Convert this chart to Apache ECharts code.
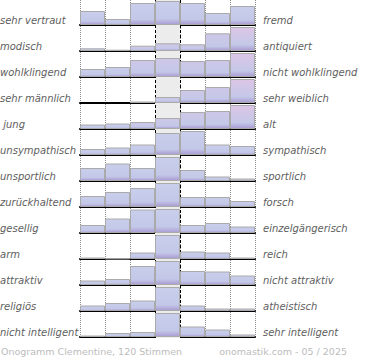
<!DOCTYPE html>
<html>
<head>
<meta charset="utf-8">
<script src="https://cdn.jsdelivr.net/npm/echarts@6/dist/echarts.min.js"></script>
<style>html,body{margin:0;padding:0;background:#fff}#c{width:370px;height:360px}</style>
</head>
<body>
<div id="c"></div>
<script>
// scale steps (7 columns)
const steps = ['1', '2', '3', '4', '5', '6', '7'];
const leftLabels = ['sehr vertraut', 'modisch', 'wohlklingend', 'sehr männlich', ' jung', 'unsympathisch', 'unsportlich', 'zurückhaltend', 'gesellig', 'arm', 'attraktiv', 'religiös', 'nicht intelligent'];
const rightLabels = ['fremd', 'antiquiert', 'nicht wohlklingend', 'sehr weiblich', 'alt', 'sympathisch', 'sportlich', 'forsch', 'einzelgängerisch', 'reich', 'nicht attraktiv', 'atheistisch', 'sehr intelligent'];
// relative vote shares per row (largest = 24)
const vertraut = [14, 6, 22, 24, 22, 12, 19];
const modisch = [2.7, 1.3, 5.3, 7.7, 6.7, 17.7, 24];
const wohlklingend = [8, 10, 17, 19, 16, 17, 24];
const maennlich = [0, 0, 1.5, 6, 13, 16, 24];
const jung = [4.5, 5.5, 7, 11, 17, 18, 24];
const unsympathisch = [6, 7.5, 10.5, 22, 24, 10.5, 9];
const unsportlich = [13, 17.5, 13, 24, 11, 4.5, 2.5];
const zurueckhaltend = [11, 15, 19, 24, 10, 10, 6];
const gesellig = [8, 14.5, 23.5, 24, 8, 10, 6.5];
const arm = [1.5, 0.5, 6.5, 24, 7.5, 6.5, 1.5];
const attraktiv = [4.5, 6, 19, 24, 14, 13.5, 9.5];
const religioes = [5.5, 8, 10.5, 24, 5.5, 2.5, 2.5];
const intelligent = [1.5, 4, 5, 24, 10.5, 7.5, 2.5];
const rows = [vertraut, modisch, wohlklingend, maennlich, jung, unsympathisch, unsportlich, zurueckhaltend, gesellig, arm, attraktiv, religioes, intelligent];

const PLOT_L = 80, PLOT_W = 175, ROW_H = 26, BAR_MAX = 24, FIRST_BASE = 25;
const tinted = [false, true, true, true, true, false, false, false, false, false, false, false, false];

function grad(top) {
  return new echarts.graphic.LinearGradient(0, 0, 0, 1, [
    { offset: 0, color: top },
    { offset: 0.75, color: '#c4c8e8' },
    { offset: 1, color: '#a99bd2' }
  ]);
}

const grids = [{ left: PLOT_L, width: PLOT_W, top: 0, height: FIRST_BASE + ROW_H * 12 + 1 }];
const xAxes = [{
  gridIndex: 0, type: 'value', min: 0, max: 7, interval: 1,
  axisLine: { show: false }, axisTick: { show: false }, axisLabel: { show: false },
  splitLine: { show: true, lineStyle: { color: '#8a8a8a', type: [1, 1], width: 1 } }
}];
const yAxes = [{ gridIndex: 0, type: 'value', min: 0, max: 1, show: false }];
const series = [
  {
    type: 'line', xAxisIndex: 0, yAxisIndex: 0, data: [], z: 0, silent: true,
    markArea: { silent: true, itemStyle: { color: '#ececec' }, data: [[{ xAxis: 3 }, { xAxis: 4 }]] }
  },
  {
    type: 'line', xAxisIndex: 0, yAxisIndex: 0, data: [], z: 20, silent: true,
    markLine: {
      silent: true, symbol: 'none', label: { show: false },
      lineStyle: { color: '#000', type: [3, 2], width: 1 },
      data: [{ xAxis: 3 }, { xAxis: 4 }]
    }
  }
];
const graphics = [];

rows.forEach((vals, k) => {
  const gi = k + 1;
  const base = FIRST_BASE + ROW_H * k;
  grids.push({ left: PLOT_L, width: PLOT_W, top: base - BAR_MAX, height: BAR_MAX });
  xAxes.push({
    gridIndex: gi, type: 'category', data: steps, boundaryGap: true,
    axisLine: { show: true, lineStyle: { color: '#000', width: 2 } },
    axisTick: { show: false }, axisLabel: { show: false }, splitLine: { show: false }
  });
  yAxes.push({ gridIndex: gi, type: 'value', min: 0, max: function (v) { return v.max; }, show: false });
  series.push({
    type: 'bar', xAxisIndex: gi, yAxisIndex: gi, z: 5, silent: true,
    barCategoryGap: '0%', barGap: '0%',
    data: vals.map((v, i) => {
      let top = '#c8ceec';
      if (tinted[k]) top = i === 6 ? '#ddc5e6' : (i >= 2 ? '#cec7e8' : '#c8ceec');
      return { value: v, itemStyle: { color: grad(top), borderColor: '#aaaaaa', borderWidth: v > 0 ? 1 : 0 } };
    })
  });
  const font = 'italic 10px "DejaVu Sans"';
  graphics.push({ type: 'text', x: 0, y: base - 5, silent: true, style: { text: leftLabels[k], font: font, fill: '#606060', verticalAlign: 'middle', align: 'left' } });
  graphics.push({ type: 'text', x: 263, y: base - 5, silent: true, style: { text: rightLabels[k], font: font, fill: '#606060', verticalAlign: 'middle', align: 'left' } });
});

graphics.push({ type: 'text', x: 1, y: 351, silent: true, style: { text: 'Onogramm Clementine, 120 Stimmen', font: '9.5px "DejaVu Sans"', fill: '#bcbcbc', verticalAlign: 'middle', align: 'left' } });
graphics.push({ type: 'text', x: 347, y: 351, silent: true, style: { text: 'onomastik.com - 05 / 2025', font: '9.5px "DejaVu Sans"', fill: '#bcbcbc', verticalAlign: 'middle', align: 'right' } });

const chart = echarts.init(document.getElementById('c'), null, { renderer: 'svg' });
chart.setOption({
  animation: false,
  backgroundColor: '#fff',
  grid: grids,
  xAxis: xAxes,
  yAxis: yAxes,
  series: series,
  graphic: graphics
});
</script>
</body>
</html>
